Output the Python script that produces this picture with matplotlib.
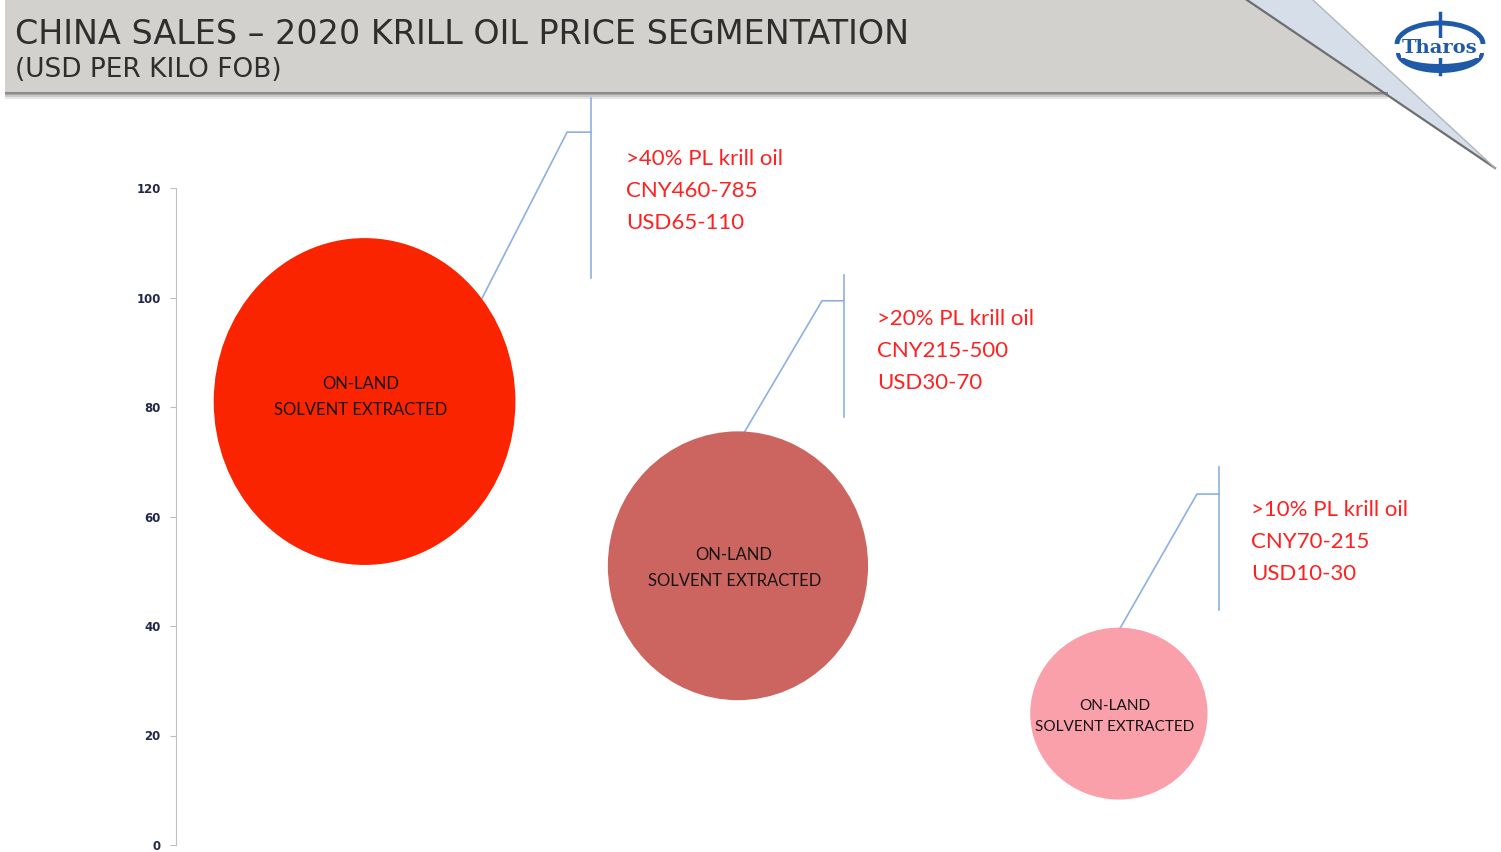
import matplotlib.pyplot as plt
from matplotlib.patches import Ellipse, Polygon, Arc
import numpy as np

# data
segments = ["ON-LAND\nSOLVENT EXTRACTED"] * 3
price_mid = [81, 51, 24]            # bubble centre, USD per kilo
bubble_x = [1.0, 1.99, 3.0]
bubble_w = [0.80, 0.69, 0.47]       # bubble extent along x (category units)
bubble_h = [59.7, 49.1, 31.4]       # bubble extent along y (USD)
grades = [">40% PL krill oil", ">20% PL krill oil", ">10% PL krill oil"]
cny = ["CNY460-785", "CNY215-500", "CNY70-215"]
usd = ["USD65-110", "USD30-70", "USD10-30"]
colors = ["#FA2400", "#CC6560", "#F9A0AA"]
yticks = [0, 20, 40, 60, 80, 100, 120]

# layout of the callouts
start_angle = [39, 87, 89]
elbow = [(1.537, 130.2), (2.213, 99.4), (3.207, 64.1)]
bracket_x = [1.600, 2.271, 3.266]
bracket_y = [(136.4, 103.6), (104.1, 78.2), (69.0, 42.9)]
text_x = [1.693, 2.359, 3.351]
text_mid = [119.4, 90.3, 55.4]
label_size = [12, 12, 11]
label_dy = [0.8, -0.4, -0.6]
label_ls = [1.75, 1.75, 1.65]

fig = plt.figure(figsize=(15.01, 8.52), dpi=100)

# header band, drawn in pixel space
bg = fig.add_axes([0, 0, 1, 1], zorder=0)
bg.set_xlim(0, 1501)
bg.set_ylim(852, 0)
bg.axis('off')
bg.add_patch(Polygon([(5, 0), (1247, 0), (1388, 92), (5, 92)], closed=True,
                     facecolor='#D3D1CE', edgecolor='none'))
for yy, c in [(93, '#8a8a8a'), (94.5, '#a8a8a8'), (96, '#c8c8c8'), (97.5, '#e6e6e6')]:
    bg.plot([5, 1388], [yy, yy], color=c, lw=1.5, solid_capstyle='butt')
bg.add_patch(Polygon([(1247, 0), (1313, 0), (1495, 168)], closed=True,
                     facecolor='#D6DEEA', edgecolor='none'))
bg.plot([1247, 1495], [0, 168], color='#6e6e6e', lw=1.6)
bg.plot([1313, 1495], [0, 168], color='#b0b6bf', lw=1.0)

bg.text(15, 34, "CHINA SALES – 2020 KRILL OIL PRICE SEGMENTATION", family='DejaVu Sans',
        fontsize=24, color='#2e2e2e', va='center', ha='left')
bg.text(15, 70, "(USD PER KILO FOB)", family='DejaVu Sans', fontsize=19,
        color='#2e2e2e', va='center', ha='left')

# Tharos logo
logo_blue = '#1E5AA8'
bg.add_patch(Arc((1440, 44), 86, 42, theta1=180, theta2=360, color=logo_blue, lw=3.5))
t = np.linspace(0, np.pi, 60)
outer = np.column_stack([1440 + 44 * np.cos(t), 53 + 20 * np.sin(t)])
inner = np.column_stack([1440 + 40 * np.cos(t[::-1]), 53 + 11 * np.sin(t[::-1])])
bg.add_patch(Polygon(np.vstack([outer, inner]), closed=True, facecolor=logo_blue,
                     edgecolor='none'))
bg.plot([1440, 1440], [13, 74], color=logo_blue, lw=2.5)
bg.text(1440, 48, "Tharos", family='DejaVu Serif', weight='bold', fontsize=14,
        color=logo_blue, ha='center', va='center',
        bbox=dict(facecolor='white', edgecolor='none', pad=0.5))

# chart
ax = fig.add_axes([176 / 1501, 7 / 852, 1320 / 1501, 657 / 852], zorder=1)
ax.patch.set_alpha(0)
ax.set_xlim(0.5, 4.0)
ax.set_ylim(0, 120)
for s in ['top', 'right', 'bottom']:
    ax.spines[s].set_visible(False)
ax.spines['left'].set_color('#BFBFBF')
ax.set_xticks([])
ax.set_yticks(yticks)
ax.tick_params(axis='y', length=4, color='#BFBFBF', pad=7, labelsize=8.5,
               labelcolor='#22284a')
for lab in ax.get_yticklabels():
    lab.set_fontweight('bold')

for i in range(3):
    x = bubble_x[i]
    y = price_mid[i]
    ax.add_patch(Ellipse((x, y), bubble_w[i], bubble_h[i], facecolor=colors[i],
                         edgecolor='none', zorder=2))
    ax.text(x - 0.01, y + label_dy[i], segments[i], family='Lato',
            fontsize=label_size[i], color='#151515', ha='center', va='center',
            linespacing=label_ls[i], zorder=3)

    a = np.deg2rad(start_angle[i])
    sx = x + bubble_w[i] / 2 * np.cos(a)
    sy = y + bubble_h[i] / 2 * np.sin(a)
    ex, ey = elbow[i]
    ax.plot([sx, ex, bracket_x[i]], [sy, ey, ey], color='#8DB0E0', lw=1.2,
            clip_on=False, zorder=1)
    ax.plot([bracket_x[i], bracket_x[i]], bracket_y[i], color='#8DB0E0', lw=1.2,
            clip_on=False, zorder=1)

    for k, line in enumerate([grades[i], cny[i], usd[i]]):
        ax.text(text_x[i], text_mid[i] + 5.85 * (1 - k), line, family='Lato',
                fontsize=16, color='#FF2020', ha='left', va='center', clip_on=False)

fig.savefig('out.png', dpi=100)
